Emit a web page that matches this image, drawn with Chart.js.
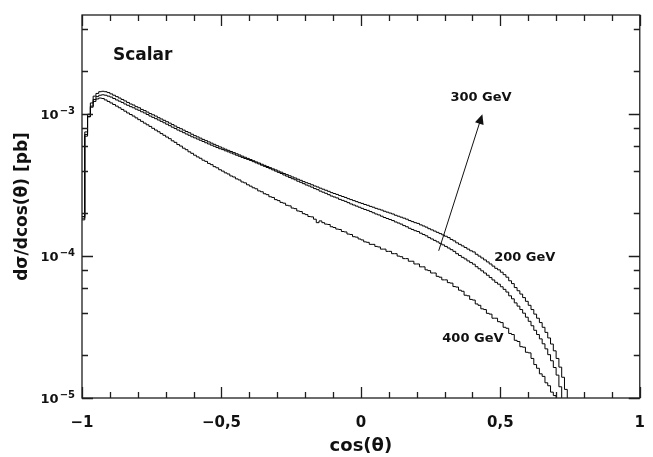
<!DOCTYPE html>
<html>
<head>
<meta charset="utf-8">
<script src="https://cdn.jsdelivr.net/npm/chart.js@4/dist/chart.umd.min.js"></script>
<style>
  body { margin: 0; background: #ffffff; }
</style>
</head>
<body>
<canvas id="histChart" width="653" height="457"></canvas>
<script>
// histogram binning on cos(theta)
const binStart = -1;
const binWidth = 0.01;

// dsigma/dcos(theta) per bin, in units of 1e-4 pb
const unit = 1e-4;

const curveA = [
  1.9, 7.5, 10.0, 12.0, 13.4, 14.0, 14.4, 14.5, 14.4, 14.2,
  13.9, 13.6, 13.3, 13.0, 12.7, 12.4, 12.1, 11.8, 11.6, 11.3,
  11.1, 10.8, 10.6, 10.35, 10.1, 9.9, 9.7, 9.45, 9.25, 9.05,
  8.85, 8.65, 8.45, 8.25, 8.05, 7.9, 7.72, 7.55, 7.4, 7.22,
  7.06, 6.92, 6.78, 6.64, 6.51, 6.38, 6.25, 6.13, 6.0, 5.88,
  5.77, 5.66, 5.56, 5.46, 5.36, 5.26, 5.16, 5.06, 4.97, 4.88,
  4.79, 4.7, 4.61, 4.53, 4.44, 4.36, 4.28, 4.2, 4.12, 4.05,
  3.97, 3.9, 3.82, 3.75, 3.68, 3.61, 3.55, 3.48, 3.42, 3.35,
  3.29, 3.24, 3.18, 3.12, 3.07, 3.01, 2.96, 2.91, 2.86, 2.8,
  2.76, 2.72, 2.67, 2.63, 2.59, 2.54, 2.5, 2.46, 2.42, 2.38,
  2.35, 2.31, 2.28, 2.24, 2.21, 2.17, 2.14, 2.11, 2.07, 2.04,
  2.01, 1.98, 1.94, 1.91, 1.88, 1.85, 1.82, 1.78, 1.75, 1.72,
  1.7, 1.66, 1.63, 1.6, 1.56, 1.53, 1.5, 1.47, 1.44, 1.41,
  1.38, 1.35, 1.31, 1.28, 1.24, 1.21, 1.18, 1.15, 1.12, 1.09,
  1.07, 1.03, 1.0, 0.97, 0.94, 0.91, 0.88, 0.85, 0.82, 0.8,
  0.77, 0.74, 0.71, 0.67, 0.64, 0.6, 0.57, 0.54, 0.51, 0.48,
  0.45, 0.42, 0.39, 0.365, 0.34, 0.315, 0.29, 0.265, 0.24, 0.215,
  0.19, 0.165, 0.14, 0.115
];

const curveB = [
  1.8, 7.2, 9.6, 11.4, 12.7, 13.3, 13.6, 13.7, 13.6, 13.4,
  13.2, 12.9, 12.6, 12.35, 12.1, 11.8, 11.55, 11.3, 11.1, 10.85,
  10.65, 10.4, 10.2, 9.95, 9.7, 9.5, 9.3, 9.1, 8.9, 8.7,
  8.5, 8.3, 8.1, 7.92, 7.73, 7.58, 7.41, 7.25, 7.1, 6.93,
  6.81, 6.68, 6.55, 6.42, 6.29, 6.17, 6.05, 5.94, 5.82, 5.71,
  5.63, 5.52, 5.43, 5.33, 5.24, 5.14, 5.05, 4.96, 4.87, 4.8,
  4.72, 4.63, 4.54, 4.46, 4.37, 4.29, 4.21, 4.13, 4.05, 3.97,
  3.89, 3.82, 3.73, 3.66, 3.58, 3.51, 3.45, 3.37, 3.31, 3.24,
  3.17, 3.12, 3.06, 2.99, 2.94, 2.87, 2.82, 2.77, 2.71, 2.65,
  2.61, 2.57, 2.51, 2.47, 2.43, 2.38, 2.33, 2.29, 2.25, 2.21,
  2.17, 2.13, 2.1, 2.06, 2.02, 1.98, 1.95, 1.91, 1.87, 1.84,
  1.81, 1.78, 1.74, 1.71, 1.68, 1.64, 1.61, 1.57, 1.54, 1.51,
  1.49, 1.45, 1.42, 1.39, 1.35, 1.32, 1.29, 1.26, 1.23, 1.2,
  1.17, 1.14, 1.11, 1.08, 1.04, 1.01, 0.98, 0.955, 0.925, 0.9,
  0.877, 0.842, 0.814, 0.787, 0.76, 0.733, 0.706, 0.679, 0.653, 0.634,
  0.608, 0.583, 0.558, 0.525, 0.5, 0.468, 0.444, 0.42, 0.396, 0.371,
  0.347, 0.323, 0.3, 0.28, 0.261, 0.241, 0.222, 0.202, 0.183, 0.164,
  0.145, 0.12
];

const curveC = [
  1.85, 7.0, 9.6, 11.2, 12.3, 12.8, 13.0, 12.9, 12.6, 12.3,
  12.0, 11.7, 11.4, 11.1, 10.8, 10.5, 10.2, 9.95, 9.7, 9.42,
  9.15, 8.9, 8.65, 8.42, 8.2, 7.95, 7.73, 7.52, 7.3, 7.1,
  6.9, 6.72, 6.49, 6.33, 6.11, 5.96, 5.76, 5.62, 5.43, 5.3,
  5.14, 5.0, 4.89, 4.74, 4.65, 4.5, 4.41, 4.27, 4.19, 4.06,
  3.97, 3.86, 3.79, 3.67, 3.61, 3.5, 3.44, 3.33, 3.28, 3.18,
  3.11, 3.03, 2.98, 2.88, 2.84, 2.75, 2.71, 2.62, 2.59, 2.5,
  2.46, 2.39, 2.36, 2.28, 2.26, 2.18, 2.16, 2.08, 2.06, 1.99,
  1.96, 1.9, 1.89, 1.82, 1.72, 1.77, 1.72, 1.68, 1.67, 1.61,
  1.59, 1.55, 1.54, 1.49, 1.48, 1.43, 1.42, 1.37, 1.36, 1.32,
  1.3, 1.26, 1.25, 1.21, 1.21, 1.17, 1.16, 1.12, 1.12, 1.08,
  1.08, 1.04, 1.04, 1.0, 0.99, 0.96, 0.96, 0.92, 0.92, 0.88,
  0.88, 0.84, 0.84, 0.8, 0.79, 0.76, 0.76, 0.72, 0.71, 0.68,
  0.68, 0.65, 0.645, 0.61, 0.605, 0.575, 0.565, 0.53, 0.525, 0.495,
  0.49, 0.46, 0.45, 0.425, 0.42, 0.395, 0.39, 0.365, 0.365, 0.345,
  0.34, 0.315, 0.31, 0.285, 0.28, 0.255, 0.25, 0.23, 0.228, 0.21,
  0.208, 0.19, 0.172, 0.162, 0.148, 0.142, 0.128, 0.122, 0.11, 0.104
];

// axis ticks
const xMajorTicks = [-1, -0.5, 0, 0.5, 1];
const xTickLabels = ["\u22121", "\u22120,5", "0", "0,5", "1"];
const xMinorTicks = [-0.9, -0.8, -0.7, -0.6, -0.4, -0.3, -0.2, -0.1, 0.1, 0.2, 0.3, 0.4, 0.6, 0.7, 0.8, 0.9];
const yMajorTicks = [1e-5, 1e-4, 1e-3];
const yTickExponents = ["\u22125", "\u22124", "\u22123"];
const yMinorTicks = [2e-5, 4e-5, 6e-5, 8e-5, 2e-4, 4e-4, 6e-4, 8e-4, 2e-3, 4e-3];

// text labels placed in data coordinates
const noteTexts = ["Scalar", "300 GeV", "200 GeV", "400 GeV"];
const noteX = [-0.889, 0.321, 0.478, 0.292];
const noteY = [2.4e-3, 1.235e-3, 9.2e-5, 2.48e-5];
const noteSize = [17, 13, 13, 13];
const arrowFrom = [0.279, 1.09e-4];
const arrowTo = [0.4355, 1.0e-3];

const fontFamily = "'DejaVu Sans', 'Liberation Sans', sans-serif";

function toPoints(values) {
  const pts = values.map((v, i) => ({ x: binStart + i * binWidth, y: v * unit }));
  // close the last bin, drop below the axis
  pts.push({ x: binStart + values.length * binWidth, y: 1e-7 });
  return pts;
}

function histSet(values) {
  return {
    data: toPoints(values),
    borderColor: "#000000",
    borderWidth: 1,
    pointRadius: 0,
    stepped: "before",
    fill: false
  };
}

//FRAME + INWARD TICKS + NOTES
const framePlugin = {
  id: "frameTicks",
  afterDraw(chart) {
    const { ctx, chartArea: a } = chart;
    const x = chart.scales.x;
    const y = chart.scales.y;
    ctx.save();
    ctx.strokeStyle = "#1e1e1e";
    ctx.lineWidth = 1.3;
    ctx.strokeRect(a.left, a.top, a.right - a.left, a.bottom - a.top);

    ctx.beginPath();
    const xTick = (v, len) => {
      const px = Math.round(x.getPixelForValue(v)) + 0.5;
      ctx.moveTo(px, a.bottom); ctx.lineTo(px, a.bottom - len);
      ctx.moveTo(px, a.top); ctx.lineTo(px, a.top + len);
    };
    const yTick = (v, len) => {
      const py = Math.round(y.getPixelForValue(v)) + 0.5;
      ctx.moveTo(a.left, py); ctx.lineTo(a.left + len, py);
      ctx.moveTo(a.right, py); ctx.lineTo(a.right - len, py);
    };
    xMajorTicks.forEach(v => xTick(v, 11));
    xMinorTicks.forEach(v => xTick(v, 6));
    yMajorTicks.forEach(v => yTick(v, 11));
    yMinorTicks.forEach(v => yTick(v, 6));
    ctx.stroke();

    ctx.fillStyle = "#111111";
    ctx.textBaseline = "alphabetic";

    // y labels as 10 with raised exponent
    yMajorTicks.forEach((v, i) => {
      const py = y.getPixelForValue(v);
      ctx.textAlign = "right";
      ctx.font = "bold 10px " + fontFamily;
      ctx.fillText(yTickExponents[i], a.left - 7, py - 0.5);
      const expW = ctx.measureText(yTickExponents[i]).width;
      ctx.font = "bold 13px " + fontFamily;
      ctx.fillText("10", a.left - 8 - expW, py + 4.5);
    });

    ctx.textAlign = "left";
    noteTexts.forEach((t, i) => {
      ctx.font = "bold " + noteSize[i] + "px " + fontFamily;
      ctx.fillText(t, x.getPixelForValue(noteX[i]), y.getPixelForValue(noteY[i]));
    });

    // arrow
    const x0 = x.getPixelForValue(arrowFrom[0]), y0 = y.getPixelForValue(arrowFrom[1]);
    const x1 = x.getPixelForValue(arrowTo[0]), y1 = y.getPixelForValue(arrowTo[1]);
    const ang = Math.atan2(y1 - y0, x1 - x0);
    ctx.strokeStyle = "#111111";
    ctx.lineWidth = 1;
    ctx.beginPath();
    ctx.moveTo(x0, y0);
    ctx.lineTo(x1 - 6 * Math.cos(ang), y1 - 6 * Math.sin(ang));
    ctx.stroke();
    ctx.beginPath();
    ctx.moveTo(x1, y1);
    ctx.lineTo(x1 - 10 * Math.cos(ang) + 4.5 * Math.sin(ang), y1 - 10 * Math.sin(ang) - 4.5 * Math.cos(ang));
    ctx.lineTo(x1 - 10 * Math.cos(ang) - 4.5 * Math.sin(ang), y1 - 10 * Math.sin(ang) + 4.5 * Math.cos(ang));
    ctx.closePath();
    ctx.fill();
    ctx.restore();
  }
};

new Chart(document.getElementById("histChart"), {
  type: "line",
  data: {
    datasets: [histSet(curveA), histSet(curveB), histSet(curveC)]
  },
  options: {
    responsive: false,
    animation: false,
    devicePixelRatio: 1,
    layout: { padding: { top: 15, right: 12, left: 0, bottom: 0 } },
    plugins: { legend: { display: false }, tooltip: { enabled: false } },
    scales: {
      x: {
        type: "linear",
        min: -1,
        max: 1,
        afterBuildTicks: s => { s.ticks = xMajorTicks.map(v => ({ value: v })); },
        afterFit: s => { s.height = 59; },
        grid: { display: false },
        border: { display: false },
        ticks: {
          autoSkip: false,
          maxRotation: 0,
          padding: 8,
          color: "#111111",
          font: { family: fontFamily, size: 15, weight: "bold" },
          callback: (v, i) => xTickLabels[i]
        },
        title: {
          display: true,
          text: "cos(\u03B8)",
          color: "#111111",
          padding: { top: 3, bottom: 0 },
          font: { family: fontFamily, size: 18, weight: "bold" }
        }
      },
      y: {
        type: "logarithmic",
        min: 1e-5,
        max: 5e-3,
        afterBuildTicks: s => { s.ticks = yMajorTicks.map(v => ({ value: v })); },
        afterFit: s => { s.width = 82; },
        grid: { display: false },
        border: { display: false },
        ticks: {
          padding: 7,
          font: { family: fontFamily, size: 13, weight: "bold" },
          callback: () => ""
        },
        title: {
          display: true,
          text: "d\u03C3/dcos(\u03B8) [pb]",
          color: "#111111",
          padding: { top: 12, bottom: 0 },
          font: { family: fontFamily, size: 17, weight: "bold" }
        }
      }
    }
  },
  plugins: [framePlugin]
});
</script>
</body>
</html>
